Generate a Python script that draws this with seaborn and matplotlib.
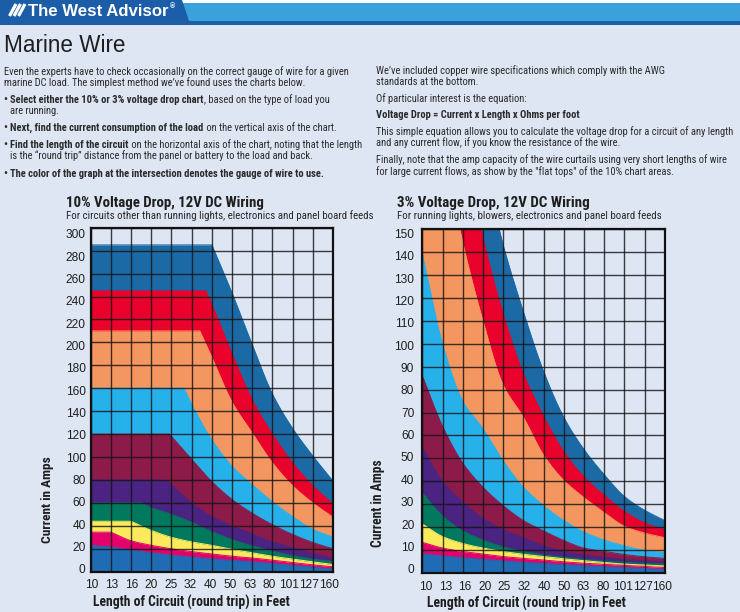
import os
import numpy as np
import pandas as pd
import matplotlib
matplotlib.use("Agg")
import matplotlib.pyplot as plt
from matplotlib import font_manager
from matplotlib.font_manager import FontProperties
from matplotlib.patches import Polygon, Rectangle
import seaborn as sns

# ---------------- data ----------------
length_labels = ["10", "13", "16", "20", "25", "32", "40", "50", "63", "80", "101", "127", "160"]
steps = list(range(len(length_labels)))
amp_ticks_10 = list(range(0, 301, 20))
amp_ticks_3 = list(range(0, 151, 10))

wire_colors = ["#1b6aa6", "#e9022b", "#f4965f", "#27b1ea", "#8d1b4a",
               "#4b2383", "#00795f", "#fbea5c", "#e5016c", "#1f6bb4"]

# 10% chart: top edge (amps) of each colour band at each length column
d10_dark_blue = [285, 285, 285, 285, 285, 285, 285, 243, 198, 155, 125, 101, 79]
d10_red = [245, 245, 245, 245, 245, 245, 233, 190, 150, 120, 95, 75, 59]
d10_orange = [210, 210, 210, 210, 210, 210, 187, 148, 121, 95, 75, 60, 47.5]
d10_light_blue = [160, 160, 160, 160, 160, 146, 115, 92, 76, 61, 48, 37, 30]
d10_maroon = [120, 120, 120, 120, 118, 98, 78.5, 63, 51, 41, 32.5, 25.5, 20]
d10_purple = [80, 80, 80, 80, 76, 60, 48, 40, 33, 26, 21, 16, 12]
d10_green = [60, 60, 60, 56, 50, 43, 35, 28, 22.5, 18, 14, 11, 8.7]
d10_yellow = [44, 44, 44, 36, 30, 26, 23, 19.5, 16.5, 13.5, 11, 8.5, 6.3]
d10_pink = [34.5, 34.5, 27, 23, 20, 17.5, 15.5, 13.5, 12, 10, 8, 6, 4.3]
d10_blue = [23, 21.5, 19, 16.5, 14.5, 12.8, 11.2, 10, 8.7, 7.2, 5.6, 4, 2.3]
# column step where the flat top of each band ends
d10_flat_end = [6.0, 5.7, 5.4, 4.62, 3.9, 3.75, 2.5, 2.0, 1.0, 0.0]

# 3% chart
d3_dark_blue = [150, 150, 150, 150, 143, 114, 88, 68, 54, 43, 33.5, 27.5, 23]
d3_red = [150, 150, 150, 146, 113, 87, 68.5, 53, 42, 34, 27, 22, 19]
d3_orange = [150, 150, 144, 110, 82, 68, 51.5, 40.5, 33, 26.5, 20.5, 17.5, 15.5]
d3_light_blue = [139, 100, 75, 63, 49, 37.5, 29.5, 23, 18, 14.5, 12, 10, 9]
d3_maroon = [86, 64, 48, 37.5, 29.5, 23, 18.5, 14.3, 11, 9.5, 8.2, 7.2, 6.5]
d3_purple = [55, 40, 31, 24, 19, 15.5, 12, 9.5, 8, 7, 6, 5.5, 5]
d3_green = [35, 25, 18.5, 14.5, 11.5, 9.5, 8, 7, 6, 5.3, 4.8, 4.3, 4]
d3_yellow = [21.5, 16, 13, 11, 9.5, 8.3, 7.3, 6.3, 5.5, 4.7, 4, 3.6, 3.2]
d3_pink = [13.5, 11, 9.5, 8.4, 7.3, 6.5, 5.8, 5, 4.4, 3.9, 3.5, 3, 2.5]
d3_blue = [8.5, 7.6, 6.8, 6.1, 5.4, 4.8, 4.3, 3.8, 3.3, 2.9, 2.5, 2.1, 1.7]
d3_flat_end = [3.8, 2.9, 1.85, 0.0, 0.0, 0.0, 0.0, 0.0, 0.0, 0.0]

# ---------------- style ----------------
sns.set_theme(style="white")
plt.rcParams["font.family"] = ["Liberation Sans", "DejaVu Sans"]
REG = "Liberation Sans"


def find_condensed(bold):
    prefs = ["liberationsansnarrow", "robotocondensed", "dejavusanscondensed",
             "notosans-condensed", "opensans-condensed", "opensanscondensed", "arialnarrow"]
    bad = ["italic", "oblique", "light", "thin", "medium", "black", "semi", "extra", "heavy"]
    for p in prefs:
        for f in font_manager.fontManager.ttflist:
            b = os.path.basename(f.fname).lower().replace(" ", "").replace("_", "")
            if not b.startswith(p):
                continue
            rest = b[len(p):]
            if any(k in rest for k in bad):
                continue
            if bold and "bold" in rest:
                return FontProperties(fname=f.fname)
            if not bold and "bold" not in rest:
                return FontProperties(fname=f.fname)
    return FontProperties(family=REG, weight="bold" if bold else "normal")


COND_R = find_condensed(False)
COND_B = find_condensed(True)
REG_R = FontProperties(family=REG, weight="normal")
REG_B = FontProperties(family=REG, weight="bold")

BG = "#dfe6f3"
TXT = "#262626"

fig = plt.figure(figsize=(7.4, 6.12), dpi=100, facecolor=BG)
over = fig.add_axes([0, 0, 1, 1], zorder=0)
over.set_xlim(0, 740)
over.set_ylim(612, 0)
over.axis("off")
renderer = fig.canvas.get_renderer()


def adv(s, size, fp):
    a = over.text(0, -50, s + "|", fontproperties=fp, fontsize=size)
    b = over.text(0, -50, "|", fontproperties=fp, fontsize=size)
    w = a.get_window_extent(renderer).width - b.get_window_extent(renderer).width
    a.remove(); b.remove()
    return w


def fit(x, y, s, width, fp, color=TXT, rotation=0, ha="left", va="baseline"):
    t = over.text(x, y, s, fontproperties=fp, fontsize=10, color=color,
                  rotation=rotation, ha=ha, va=va, rotation_mode="anchor")
    ext = t.get_window_extent(renderer)
    cur = ext.height if rotation else ext.width
    t.set_fontsize(10 * width / cur)
    return t


def line(x, y, segments, size):
    for s, bold in segments:
        fp = COND_B if bold else COND_R
        over.text(x, y, s, fontproperties=fp, fontsize=size, color="#2a2a2a",
                  va="baseline", ha="left")
        x += adv(s, size, fp)


# ---------------- header ----------------
over.add_patch(Rectangle((0, 0), 740, 3, color="white", lw=0))
over.add_patch(Rectangle((0, 2.5), 740, 19, color="#3ba1db", lw=0))
over.add_patch(Rectangle((0, 20.5), 740, 4.5, color="#1c5ea8", lw=0))
over.add_patch(Polygon([(0, 0), (182, 0), (189, 21), (0, 21)], closed=True, color="#1b5da6", lw=0))
for sx in (9.5, 14.0, 18.5):
    over.plot([sx, sx + 6.5], [16, 4], color="white", lw=2.3, solid_capstyle="butt")
fit(27.5, 16.3, "The West Advisor", 141, REG_B, color="white")
over.text(170, 8, "\u00ae", fontsize=5, fontproperties=REG_B, color="white")

fit(3.5, 51.7, "Marine Wire", 122, REG_R, color="#1e1e1e")

# ---------------- body text ----------------
first = "Even the experts have to check occasionally on the correct gauge of wire for a given"
longest_right = "This simple equation allows you to calculate the voltage drop for a circuit of any length"
body = min(10 * 357 / adv(first, 10, COND_R), 10 * 359 / adv(longest_right, 10, COND_R))
line(4, 75, [(first, False)], body)
line(4, 85.7, [("marine DC load. The simplest method we\u2019ve found uses the charts below.", False)], body)
line(4, 103.3, [("\u2022 ", True), ("Select either the 10% or 3% voltage drop chart", True),
                (", based on the type of load you", False)], body)
line(10, 114, [("are running.", False)], body)
line(4, 131, [("\u2022 ", True), ("Next, find the current consumption of the load", True),
              (" on the vertical axis of the chart.", False)], body)
line(4, 148.3, [("\u2022 ", True), ("Find the length of the circuit", True),
                (" on the horizontal axis of the chart, noting that the length", False)], body)
line(10, 159.3, [("is the \u201cround trip\u201d distance from the panel or battery to the load and back.", False)], body)
line(4, 176.7, [("\u2022 ", True), ("The color of the graph at the intersection denotes the gauge of wire to use.", True)], body)

rx = 376.5
line(rx, 73.5, [("We\u2019ve included copper wire specifications which comply with the AWG", False)], body)
line(rx, 85, [("standards at the bottom.", False)], body)
line(rx, 102, [("Of particular interest is the equation:", False)], body)
line(rx, 118.5, [("Voltage Drop = Current x Length x Ohms per foot", True)], body)
line(rx, 135, [(longest_right, False)], body)
line(rx, 146.5, [("and any current flow, if you know the resistance of the wire.", False)], body)
line(rx, 163, [("Finally, note that the amp capacity of the wire curtails using very short lengths of wire", False)], body)
line(rx, 175, [("for large current flows, as show by the \"flat tops\" of the 10% chart areas.", False)], body)

# ---------------- chart titles ----------------
fit(65.7, 206.7, "10% Voltage Drop, 12V DC Wiring", 199.3, COND_B, color="#1e1e1e")
fit(65.7, 219.3, "For circuits other than running lights, electronics and panel board feeds", 303.7, COND_R)
fit(396.7, 206.7, "3% Voltage Drop, 12V DC Wiring", 192.7, COND_B, color="#1e1e1e")
fit(396.7, 219.3, "For running lights, blowers, electronics and panel board feeds", 262.7, COND_R)

# axis titles
fit(93.3, 607, "Length of Circuit (round trip) in Feet", 197.4, COND_B, color="#1e1e1e")
fit(426.7, 607.3, "Length of Circuit (round trip) in Feet", 198.3, COND_B, color="#1e1e1e")
fit(47.2, 500, "Current in Amps", 87.3, COND_B, color="#1e1e1e", rotation=90, ha="center", va="center")
fit(378.3, 503, "Current in Amps", 88, COND_B, color="#1e1e1e", rotation=90, ha="center", va="center")


# ---------------- charts ----------------
def pchip(xs, ys, per=16):
    xs = np.asarray(xs, float)
    ys = np.asarray(ys, float)
    if len(xs) < 3:
        return xs, ys
    h = np.diff(xs)
    delta = np.diff(ys) / h
    d = np.zeros(len(xs))
    d[0], d[-1] = delta[0], delta[-1]
    for k in range(1, len(xs) - 1):
        if delta[k - 1] * delta[k] <= 0:
            d[k] = 0.0
        else:
            w1 = 2 * h[k] + h[k - 1]
            w2 = h[k] + 2 * h[k - 1]
            d[k] = (w1 + w2) / (w1 / delta[k - 1] + w2 / delta[k])
    outx, outy = [xs[0]], [ys[0]]
    for k in range(len(xs) - 1):
        t = np.linspace(0, 1, per + 1)[1:]
        h00 = 2 * t ** 3 - 3 * t ** 2 + 1
        h10 = t ** 3 - 2 * t ** 2 + t
        h01 = -2 * t ** 3 + 3 * t ** 2
        h11 = t ** 3 - t ** 2
        outx.extend(xs[k] + t * h[k])
        outy.extend(h00 * ys[k] + h10 * h[k] * d[k] + h01 * ys[k + 1] + h11 * h[k] * d[k + 1])
    return np.array(outx), np.array(outy)


def draw_chart(ax, tops, ends, amp_ticks, ymax, xlab_off, xlab_scale, ylab_off, ylab_scale, ypad):
    ax.set_facecolor(BG)
    for vals, end, col in zip(tops, ends, wire_colors):
        xs = [i for i in steps if i < end] + [end] + [i for i in steps if i > end]
        ys = [vals[x] if isinstance(x, int) else vals[0] for x in xs]
        ci = xs.index(end)
        cx, cy = pchip(xs[ci:], ys[ci:])
        fx = np.concatenate([np.asarray(xs[:ci], float), cx])
        fy = np.concatenate([np.asarray(ys[:ci], float), cy])
        ax.fill_between(fx, 0, fy, color=col, lw=0, zorder=1)
        sns.lineplot(x=fx, y=fy, ax=ax, color=col, lw=0.7, estimator=None, sort=False,
                     legend=False, zorder=1.2)
    ax.set_xlim(0, 12)
    ax.set_ylim(0, ymax)
    ax.set_xlabel("")
    ax.set_ylabel("")
    ax.set_xticks(steps, labels=[""] * len(steps))
    ax.set_yticks(amp_ticks, labels=[""] * len(amp_ticks))
    ax.set_xticks([xlab_off + s * xlab_scale for s in steps], labels=length_labels, minor=True)
    ax.set_yticks([ylab_off + v * ylab_scale for v in amp_ticks],
                  labels=[str(v) for v in amp_ticks], minor=True)
    ax.tick_params(which="both", length=0)
    ax.tick_params(axis="x", which="minor", pad=5.2)
    ax.tick_params(axis="y", which="minor", pad=ypad)
    for lab in ax.get_xticklabels(minor=True) + ax.get_yticklabels(minor=True):
        lab.set_fontfamily(REG)
        lab.set_fontsize(8.6)
        lab.set_color("#1e1e1e")
    ax.grid(which="major", color="#141414", lw=1.0, alpha=0.82)
    ax.grid(which="minor", visible=False)
    ax.set_axisbelow(False)
    for s in ax.spines.values():
        s.set_visible(True)
        s.set_color("#111111")
        s.set_linewidth(1.6)
        s.set_zorder(3)


ax10 = fig.add_axes([90.7 / 740, 1 - 571.7 / 612, 242.3 / 740, 344 / 612], zorder=2)
ax3 = fig.add_axes([422.3 / 740, 1 - 573.3 / 612, 242.4 / 740, 344.5 / 612], zorder=2)

tops10 = [d10_dark_blue, d10_red, d10_orange, d10_light_blue, d10_maroon,
          d10_purple, d10_green, d10_yellow, d10_pink, d10_blue]
tops3 = [d3_dark_blue, d3_red, d3_orange, d3_light_blue, d3_maroon,
         d3_purple, d3_green, d3_yellow, d3_pink, d3_blue]

draw_chart(ax10, tops10, d10_flat_end, amp_ticks_10, 300, 0.064, 0.9764, 2.6, 0.9737, 3.7)
draw_chart(ax3, tops3, d3_flat_end, amp_ticks_3, 150, 0.16, 0.9775, 1.96, 0.9736, 5.8)

fig.savefig("out.png", dpi=100, facecolor=BG)
